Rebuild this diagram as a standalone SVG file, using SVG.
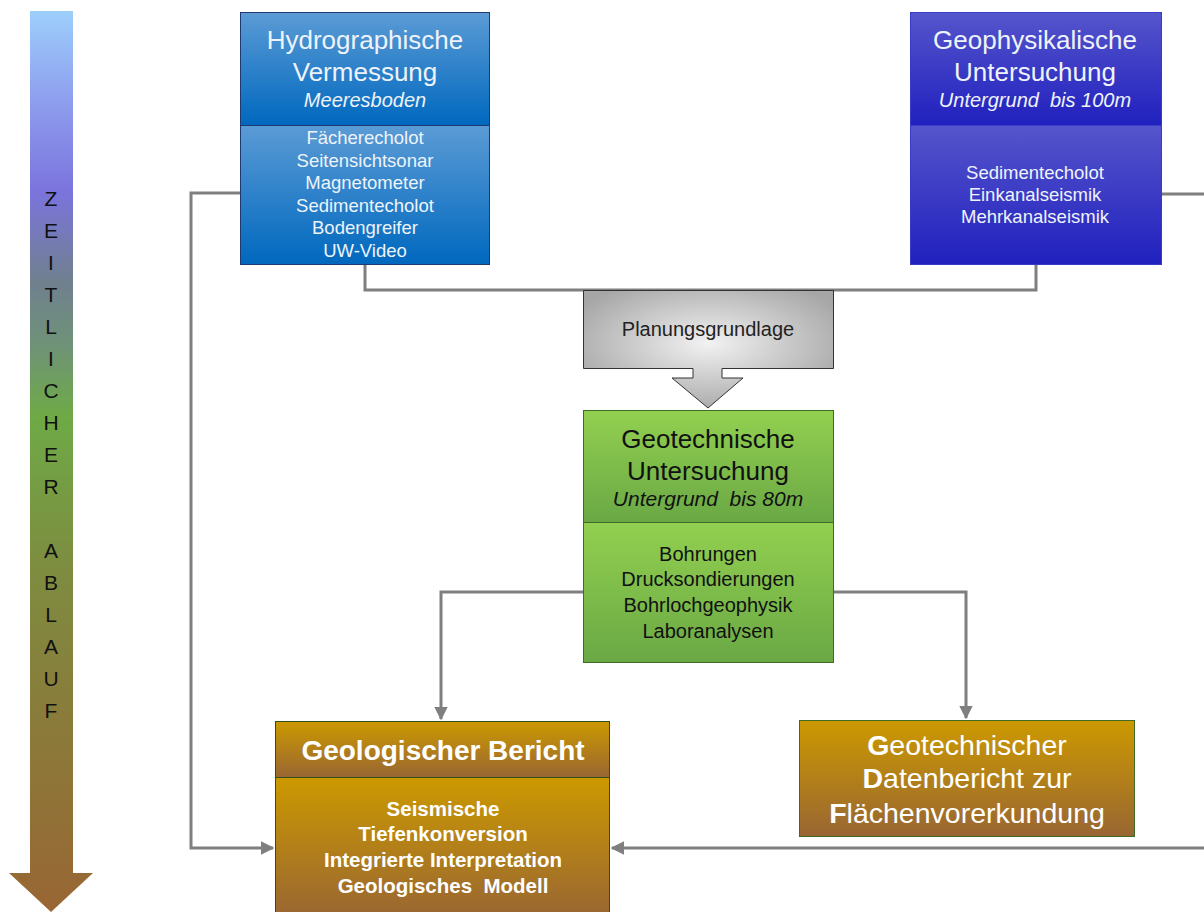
<svg xmlns="http://www.w3.org/2000/svg" width="1204" height="912" viewBox="0 0 1204 912">
<defs>
<linearGradient id="gTime" x1="0" y1="0" x2="0" y2="1">
<stop offset="0" stop-color="#9DCFFC"/>
<stop offset="0.1" stop-color="#8E9EEE"/>
<stop offset="0.2" stop-color="#7B74DD"/>
<stop offset="0.3" stop-color="#70808F"/>
<stop offset="0.37" stop-color="#6F9278"/>
<stop offset="0.45" stop-color="#6EAA46"/>
<stop offset="0.62" stop-color="#7E8C40"/>
<stop offset="1" stop-color="#996633"/>
</linearGradient>
<linearGradient id="gBlue" x1="0" y1="0" x2="0" y2="1">
<stop offset="0" stop-color="#5B9BD5"/>
<stop offset="1" stop-color="#0068BE"/>
</linearGradient>
<linearGradient id="gPurple" x1="0" y1="0" x2="0" y2="1">
<stop offset="0" stop-color="#5555CC"/>
<stop offset="1" stop-color="#2020BE"/>
</linearGradient>
<linearGradient id="gGreen" x1="0" y1="0" x2="0" y2="1">
<stop offset="0" stop-color="#92D050"/>
<stop offset="1" stop-color="#6AA845"/>
</linearGradient>
<linearGradient id="gBrown" x1="0" y1="0" x2="0" y2="1">
<stop offset="0" stop-color="#CC9900"/>
<stop offset="1" stop-color="#996633"/>
</linearGradient>
<radialGradient id="gGrey" cx="0.5" cy="0.45" r="0.6">
<stop offset="0" stop-color="#F2F2F2"/>
<stop offset="1" stop-color="#A6A6A6"/>
</radialGradient>
<marker id="arr" viewBox="0 0 10 10" refX="9" refY="5" markerWidth="4.5" markerHeight="4.5" orient="auto" markerUnits="strokeWidth">
<path d="M0,0 L10,5 L0,10 Z" fill="#7F7F7F"/>
</marker>
</defs>
<style>
text{font-family:"Liberation Sans",Arial,sans-serif;text-anchor:middle}
.w{fill:#EEF3FA}
.t{font-size:26px}
.s{font-size:20px;font-style:italic}
.l{font-size:18.5px}
.k{fill:#111}
.gl{font-size:20px}
.lbl{font-size:21px;fill:#111}
.conn{fill:none;stroke:#7F7F7F;stroke-width:3}
.bw{fill:#fff;font-weight:bold}
.db{font-size:28.5px;fill:#fff}
</style>
<g id="timeline">
<path d="M30,11 H73 V873 H93 L51,912 L9,873 H30 Z" fill="url(#gTime)"/>
<text class="lbl" x="51" y="206">Z</text>
<text class="lbl" x="51" y="238">E</text>
<text class="lbl" x="51" y="270">I</text>
<text class="lbl" x="51" y="302">T</text>
<text class="lbl" x="51" y="334">L</text>
<text class="lbl" x="51" y="366">I</text>
<text class="lbl" x="51" y="398">C</text>
<text class="lbl" x="51" y="430">H</text>
<text class="lbl" x="51" y="462">E</text>
<text class="lbl" x="51" y="494">R</text>
<text class="lbl" x="51" y="558">A</text>
<text class="lbl" x="51" y="590">B</text>
<text class="lbl" x="51" y="622">L</text>
<text class="lbl" x="51" y="654">A</text>
<text class="lbl" x="51" y="686">U</text>
<text class="lbl" x="51" y="718">F</text>
</g>
<g id="connectors">
<path class="conn" d="M365,265 V290 H1036 V265"/>
<path class="conn" d="M240,193 H191 V848 H273" marker-end="url(#arr)"/>
<path class="conn" d="M1162,194 H1204"/>
<path class="conn" d="M1204,848 H612" marker-end="url(#arr)"/>
<path class="conn" d="M583,592 H441 V719" marker-end="url(#arr)"/>
<path class="conn" d="M833,592 H966 V718" marker-end="url(#arr)"/>
</g>
<g id="hydro">
<rect x="240.5" y="12.5" width="249" height="113" fill="url(#gBlue)" stroke="#1F3A70"/>
<rect x="240.5" y="125.5" width="249" height="139" fill="url(#gBlue)" stroke="#1F3A70"/>
<text class="w t" x="365" y="49">Hydrographische</text>
<text class="w t" x="365" y="81">Vermessung</text>
<text class="w s" x="365" y="107">Meeresboden</text>
<text class="w l" x="365" y="143.5">Fächerecholot</text>
<text class="w l" x="365" y="166.5">Seitensichtsonar</text>
<text class="w l" x="365" y="188.5">Magnetometer</text>
<text class="w l" x="365" y="211.5">Sedimentecholot</text>
<text class="w l" x="365" y="233.5">Bodengreifer</text>
<text class="w l" x="365" y="256.5">UW-Video</text>
</g>
<g id="geophys">
<rect x="910.5" y="12.5" width="251" height="113" fill="url(#gPurple)" stroke="#3A3AC8"/>
<rect x="910.5" y="125.5" width="251" height="139" fill="url(#gPurple)" stroke="#3A3AC8"/>
<text class="w t" x="1035" y="49">Geophysikalische</text>
<text class="w t" x="1035" y="81">Untersuchung</text>
<text class="w s" x="1035" y="107" xml:space="preserve">Untergrund  bis 100m</text>
<text class="w l" x="1035" y="178.5">Sedimentecholot</text>
<text class="w l" x="1035" y="200.5">Einkanalseismik</text>
<text class="w l" x="1035" y="222.5">Mehrkanalseismik</text>
</g>
<g id="planung">
<path d="M583.5,290.5 H833.5 V368.5 H722 V378 H743 L708,408 L672,378 H693 V368.5 H583.5 Z" fill="url(#gGrey)" stroke="#333" stroke-width="1"/>
<text x="708" y="336" style="font-size:20px;fill:#222">Planungsgrundlage</text>
</g>
<g id="geotech">
<rect x="583.5" y="410.5" width="250" height="112" fill="url(#gGreen)" stroke="#3F6A28"/>
<rect x="583.5" y="522.5" width="250" height="140" fill="url(#gGreen)" stroke="#3F6A28"/>
<text class="k t" x="708" y="447.5">Geotechnische</text>
<text class="k t" x="708" y="479.5">Untersuchung</text>
<text class="k s" x="708" y="505.5" style="font-size:21px" xml:space="preserve">Untergrund  bis 80m</text>
<text class="k gl" x="708" y="561">Bohrungen</text>
<text class="k gl" x="708" y="586">Drucksondierungen</text>
<text class="k gl" x="708" y="612">Bohrlochgeophysik</text>
<text class="k gl" x="708" y="638">Laboranalysen</text>
</g>
<g id="geobericht">
<rect x="275.5" y="721.5" width="334" height="56" fill="url(#gBrown)" stroke="#2F4F1F"/>
<rect x="275.5" y="777.5" width="334" height="140" fill="url(#gBrown)" stroke="#2F4F1F"/>
<text class="bw" x="443" y="760" style="font-size:28px">Geologischer Bericht</text>
<text class="bw" x="443" y="816" style="font-size:20.5px">Seismische</text>
<text class="bw" x="443" y="841" style="font-size:20.5px">Tiefenkonversion</text>
<text class="bw" x="443" y="867" style="font-size:20.5px">Integrierte Interpretation</text>
<text class="bw" x="443" y="893" style="font-size:20.5px" xml:space="preserve">Geologisches  Modell</text>
</g>
<g id="datenbericht">
<rect x="799.5" y="720.5" width="335" height="116" fill="url(#gBrown)" stroke="#3F6A28"/>
<text class="db" x="967" y="755"><tspan font-weight="bold">G</tspan>eotechnischer</text>
<text class="db" x="967" y="788"><tspan font-weight="bold">D</tspan>atenbericht zur</text>
<text class="db" x="967" y="823"><tspan font-weight="bold">F</tspan>lächenvorerkundung</text>
</g>
</svg>
